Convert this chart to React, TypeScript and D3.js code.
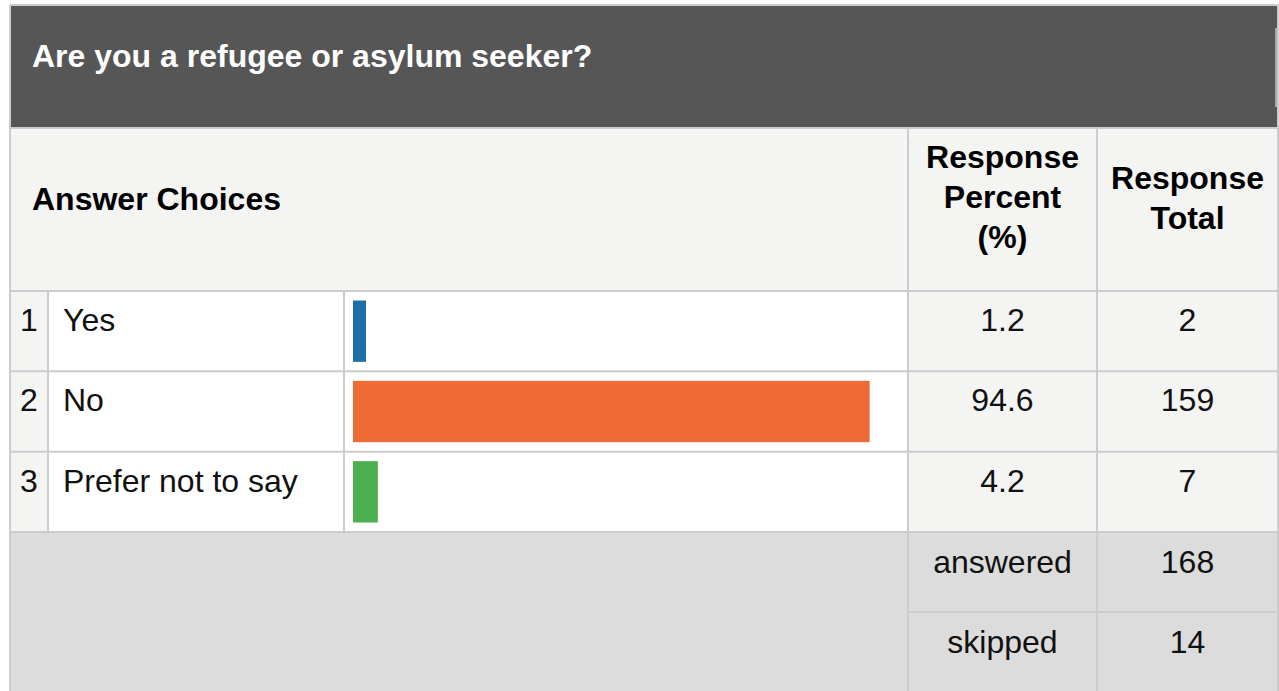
import React from "react";
import * as d3 from "d3";

const title = "Are you a refugee or asylum seeker?";
const headers = ["Answer Choices", "Response Percent (%)", "Response Total"];
const percentHeaderLines = ["Response", "Percent", "(%)"];
const totalHeaderLines = ["Response", "Total"];
const choices = ["Yes", "No", "Prefer not to say"];
const percents = [1.2, 94.6, 4.2];
const totals = [2, 159, 7];
const barColors = ["#1d6fa5", "#f06a35", "#4caf50"];
const summaryLabels = ["answered", "skipped"];
const summaryValues = [168, 14];

const W = 1279;
const H = 691;
const FONT = "Arial, 'Liberation Sans', Helvetica, sans-serif";
const BORDER = "#cccccc";

export default function App() {
  const left = 10;
  const right = 1278;
  const colNum = 48;
  const colBar = 344;
  const colPct = 908;
  const colTot = 1097;
  const titleTop = 6;
  const headTop = 129;
  const rowsTop = 291;
  const rowsBottom = 532;
  const sumBottom = 691;

  const y = d3.scaleBand<string>().domain(choices).range([rowsTop, rowsBottom]);
  const ySum = d3.scaleBand<string>().domain(summaryLabels).range([rowsBottom, sumBottom + 1]);
  const x = d3.scaleLinear().domain([0, 100]).range([2, 546]);
  const barX = 353;
  const pctCenter = (colPct + colTot) / 2;
  const totCenter = (colTot + right) / 2;

  return (
    <svg
      width={W}
      height={H}
      style={{ position: "absolute", left: 0, top: 0, background: "#fff" }}
      fontFamily={FONT}
    >
      {/* title band */}
      <rect x={left} y={titleTop} width={right - left} height={headTop - titleTop} fill="#555655" />
      <text x={32} y={67} fill="#fff" fontSize={32} fontWeight="bold">
        {title}
      </text>

      {/* header row */}
      <rect x={left} y={headTop} width={right - left} height={rowsTop - headTop} fill="#f4f4f3" />
      <text x={32} y={210} fontSize={32} fontWeight="bold" fill="#000">
        {headers[0]}
      </text>
      {percentHeaderLines.map((t, i) => (
        <text key={t} x={pctCenter} y={168 + i * 40} textAnchor="middle" fontSize={32} fontWeight="bold" fill="#000">
          {t}
        </text>
      ))}
      {totalHeaderLines.map((t, i) => (
        <text key={t} x={totCenter} y={189 + i * 39.5} textAnchor="middle" fontSize={32} fontWeight="bold" fill="#000">
          {t}
        </text>
      ))}

      {/* data rows */}
      {choices.map((c, i) => {
        const top = y(c)!;
        const bh = y.bandwidth();
        return (
          <g key={c}>
            <rect x={left} y={top} width={colNum - left} height={bh} fill="#f4f4f3" />
            <rect x={colNum} y={top} width={colPct - colNum} height={bh} fill="#fff" />
            <rect x={colPct} y={top} width={right - colPct} height={bh} fill="#f4f4f3" />
            <text x={20} y={top + 40} fontSize={32} fill="#111">
              {i + 1}
            </text>
            <text x={63} y={top + 40} fontSize={32} fill="#111">
              {c}
            </text>
            <rect
              x={barX}
              y={top + 9.5}
              width={Math.max(13, x(percents[i]))}
              height={bh - 19}
              fill={barColors[i]}
            />
            <text x={pctCenter} y={top + 40} textAnchor="middle" fontSize={32} fill="#111">
              {d3.format(".1f")(percents[i])}
            </text>
            <text x={totCenter} y={top + 40} textAnchor="middle" fontSize={32} fill="#111">
              {totals[i]}
            </text>
          </g>
        );
      })}

      {/* summary rows */}
      <rect x={left} y={rowsBottom} width={right - left} height={sumBottom - rowsBottom} fill="#dcdcdc" />
      {summaryLabels.map((s, i) => {
        const top = ySum(s)!;
        return (
          <g key={s}>
            <text x={pctCenter} y={top + 41} textAnchor="middle" fontSize={32} fill="#111">
              {s}
            </text>
            <text x={totCenter} y={top + 41} textAnchor="middle" fontSize={32} fill="#111">
              {summaryValues[i]}
            </text>
          </g>
        );
      })}

      {/* grid lines */}
      <g stroke={BORDER} strokeWidth={2} fill="none">
        <line x1={left} x2={W} y1={titleTop - 1} y2={titleTop - 1} />
        <line x1={left} x2={left} y1={titleTop - 1} y2={H} />
        <line x1={right} x2={right} y1={titleTop - 1} y2={H} />
        <line x1={left} x2={right} y1={headTop - 1} y2={headTop - 1} />
        <line x1={left} x2={right} y1={rowsTop} y2={rowsTop} />
        {choices.slice(1).map((c) => (
          <line key={c} x1={left} x2={right} y1={y(c)!} y2={y(c)!} />
        ))}
        <line x1={left} x2={right} y1={rowsBottom} y2={rowsBottom} />
        <line x1={colPct} x2={right} y1={ySum(summaryLabels[1])!} y2={ySum(summaryLabels[1])!} />
        <line x1={colNum} x2={colNum} y1={rowsTop} y2={rowsBottom} />
        <line x1={colBar} x2={colBar} y1={rowsTop} y2={rowsBottom} />
        <line x1={colPct} x2={colPct} y1={headTop} y2={H} />
        <line x1={colTot} x2={colTot} y1={headTop} y2={H} />
      </g>
      <line x1={1276} x2={1276} y1={28} y2={107} stroke="#fff" strokeWidth={1} />
      <line x1={905.5} x2={905.5} y1={140} y2={280} stroke="#fff" strokeWidth={1} />
    </svg>
  );
}
